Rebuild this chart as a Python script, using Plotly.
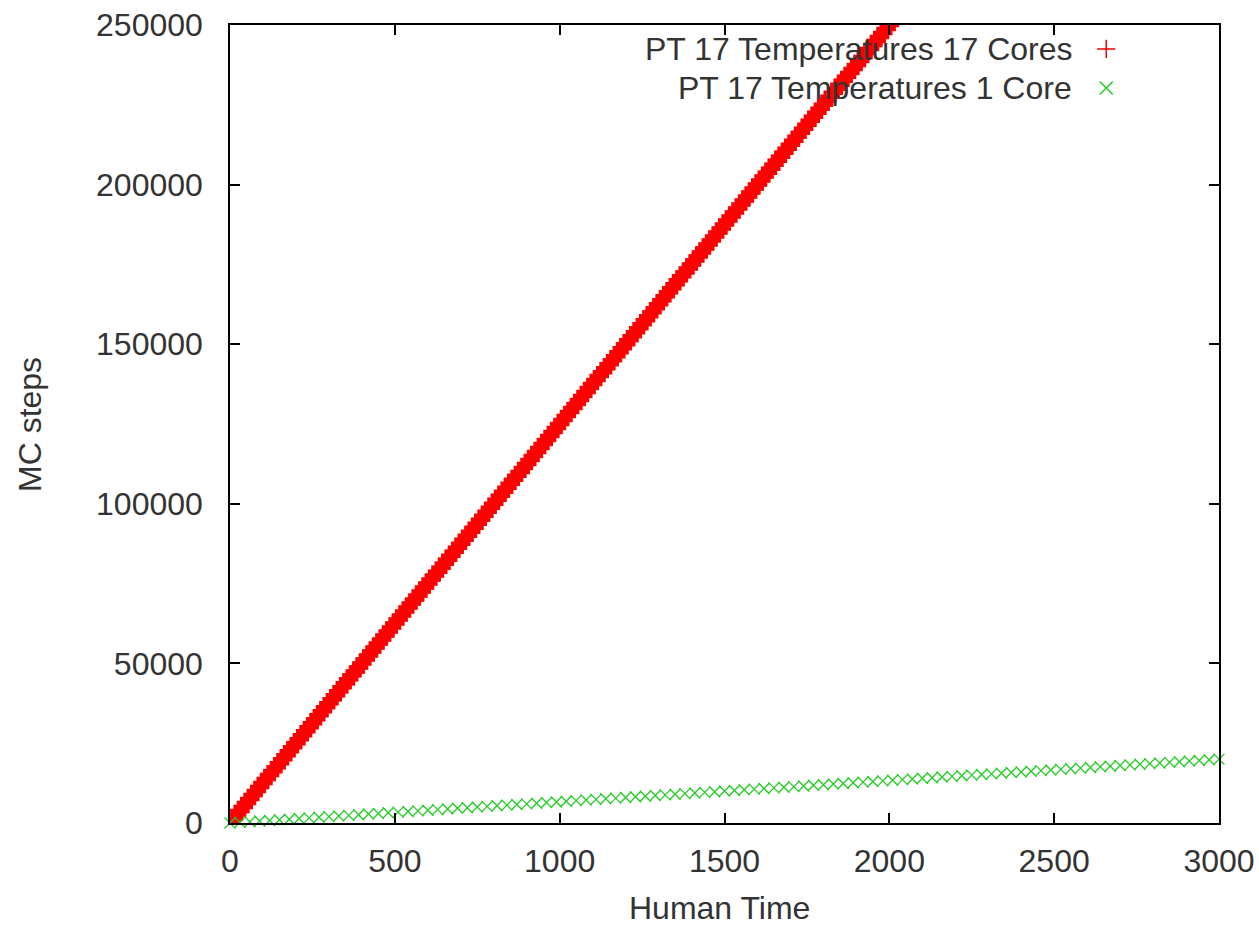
import plotly.graph_objects as go

# ---- data ----
red_x = [
    0, 10, 20, 30, 40, 50, 60, 70, 80, 90, 100, 110, 120, 130, 140, 150, 160, 170, 180, 190,
    200, 210, 220, 230, 240, 250, 260, 270, 280, 290, 300, 310, 320, 330, 340, 350, 360, 370, 380, 390,
    400, 410, 420, 430, 440, 450, 460, 470, 480, 490, 500, 510, 520, 530, 540, 550, 560, 570, 580, 590,
    600, 610, 620, 630, 640, 650, 660, 670, 680, 690, 700, 710, 720, 730, 740, 750, 760, 770, 780, 790,
    800, 810, 820, 830, 840, 850, 860, 870, 880, 890, 900, 910, 920, 930, 940, 950, 960, 970, 980, 990,
    1000, 1010, 1020, 1030, 1040, 1050, 1060, 1070, 1080, 1090, 1100, 1110, 1120, 1130, 1140, 1150, 1160, 1170, 1180, 1190,
    1200, 1210, 1220, 1230, 1240, 1250, 1260, 1270, 1280, 1290, 1300, 1310, 1320, 1330, 1340, 1350, 1360, 1370, 1380, 1390,
    1400, 1410, 1420, 1430, 1440, 1450, 1460, 1470, 1480, 1490, 1500, 1510, 1520, 1530, 1540, 1550, 1560, 1570, 1580, 1590,
    1600, 1610, 1620, 1630, 1640, 1650, 1660, 1670, 1680, 1690, 1700, 1710, 1720, 1730, 1740, 1750, 1760, 1770, 1780, 1790,
    1800, 1810, 1820, 1830, 1840, 1850, 1860, 1870, 1880, 1890, 1900, 1910, 1920, 1930, 1940, 1950, 1960, 1970, 1980, 1990,
    2000,
]
red_y = [
    0, 1250, 2500, 3750, 5000, 6250, 7500, 8750, 10000, 11250, 12500, 13750, 15000, 16250, 17500, 18750, 20000, 21250, 22500, 23750,
    25000, 26250, 27500, 28750, 30000, 31250, 32500, 33750, 35000, 36250, 37500, 38750, 40000, 41250, 42500, 43750, 45000, 46250, 47500, 48750,
    50000, 51250, 52500, 53750, 55000, 56250, 57500, 58750, 60000, 61250, 62500, 63750, 65000, 66250, 67500, 68750, 70000, 71250, 72500, 73750,
    75000, 76250, 77500, 78750, 80000, 81250, 82500, 83750, 85000, 86250, 87500, 88750, 90000, 91250, 92500, 93750, 95000, 96250, 97500, 98750,
    100000, 101250, 102500, 103750, 105000, 106250, 107500, 108750, 110000, 111250, 112500, 113750, 115000, 116250, 117500, 118750, 120000, 121250, 122500, 123750,
    125000, 126250, 127500, 128750, 130000, 131250, 132500, 133750, 135000, 136250, 137500, 138750, 140000, 141250, 142500, 143750, 145000, 146250, 147500, 148750,
    150000, 151250, 152500, 153750, 155000, 156250, 157500, 158750, 160000, 161250, 162500, 163750, 165000, 166250, 167500, 168750, 170000, 171250, 172500, 173750,
    175000, 176250, 177500, 178750, 180000, 181250, 182500, 183750, 185000, 186250, 187500, 188750, 190000, 191250, 192500, 193750, 195000, 196250, 197500, 198750,
    200000, 201250, 202500, 203750, 205000, 206250, 207500, 208750, 210000, 211250, 212500, 213750, 215000, 216250, 217500, 218750, 220000, 221250, 222500, 223750,
    225000, 226250, 227500, 228750, 230000, 231250, 232500, 233750, 235000, 236250, 237500, 238750, 240000, 241250, 242500, 243750, 245000, 246250, 247500, 248750,
    250000,
]

green_x = [
    0, 30, 60, 90, 120, 150, 180, 210, 240, 270, 300, 330, 360, 390, 420, 450, 480, 510, 540, 570,
    600, 630, 660, 690, 720, 750, 780, 810, 840, 870, 900, 930, 960, 990, 1020, 1050, 1080, 1110, 1140, 1170,
    1200, 1230, 1260, 1290, 1320, 1350, 1380, 1410, 1440, 1470, 1500, 1530, 1560, 1590, 1620, 1650, 1680, 1710, 1740, 1770,
    1800, 1830, 1860, 1890, 1920, 1950, 1980, 2010, 2040, 2070, 2100, 2130, 2160, 2190, 2220, 2250, 2280, 2310, 2340, 2370,
    2400, 2430, 2460, 2490, 2520, 2550, 2580, 2610, 2640, 2670, 2700, 2730, 2760, 2790, 2820, 2850, 2880, 2910, 2940, 2970,
    3000,
]
green_y = [
    0, 200, 400, 600, 800, 1000, 1200, 1400, 1600, 1800, 2000, 2200, 2400, 2600, 2800, 3000, 3200, 3400, 3600, 3800,
    4000, 4200, 4400, 4600, 4800, 5000, 5200, 5400, 5600, 5800, 6000, 6200, 6400, 6600, 6800, 7000, 7200, 7400, 7600, 7800,
    8000, 8200, 8400, 8600, 8800, 9000, 9200, 9400, 9600, 9800, 10000, 10200, 10400, 10600, 10800, 11000, 11200, 11400, 11600, 11800,
    12000, 12200, 12400, 12600, 12800, 13000, 13200, 13400, 13600, 13800, 14000, 14200, 14400, 14600, 14800, 15000, 15200, 15400, 15600, 15800,
    16000, 16200, 16400, 16600, 16800, 17000, 17200, 17400, 17600, 17800, 18000, 18200, 18400, 18600, 18800, 19000, 19200, 19400, 19600, 19800,
    20000,
]

series_names = ["PT 17 Temperatures 17 Cores", "PT 17 Temperatures 1 Core"]
x_ticks = [0, 500, 1000, 1500, 2000, 2500, 3000]
y_ticks = [0, 50000, 100000, 150000, 200000, 250000]

RED = "#ff0000"
GREEN = "#22cc22"
FONT = "Liberation Sans"
FS = 32
TXT = "#333333"

fig = go.Figure()

fig.add_trace(go.Scatter(
    x=red_x, y=red_y, mode="markers", name=series_names[0], showlegend=False,
    marker=dict(symbol="cross-thin-open", size=14, color=RED, line=dict(color=RED, width=4.5)),
    cliponaxis=True,
))
fig.add_trace(go.Scatter(
    x=green_x, y=green_y, mode="markers", name=series_names[1], showlegend=False,
    marker=dict(symbol="x-thin-open", size=11, color=GREEN, line=dict(color=GREEN, width=1.3)),
    cliponaxis=False,
))

# legend key markers (gnuplot style: text right, marker to its right)
fig.add_trace(go.Scatter(
    x=[0.886, 0.886], y=[0.970, 0.921], mode="markers", xaxis="x2", yaxis="y2", showlegend=False,
    marker=dict(symbol=["cross-thin-open", "x-thin-open"], size=13, color=[RED, GREEN],
                line=dict(color=[RED, GREEN], width=1.5)),
    hoverinfo="skip",
))

axis_common = dict(
    showgrid=False, zeroline=False, showline=True, linecolor="#000", linewidth=1.5,
    mirror="ticks", ticks="inside", ticklen=10, tickcolor="#000", tickwidth=1.5,
    tickfont=dict(family=FONT, size=FS, color=TXT), automargin=False,
)

fig.update_layout(
    width=1259, height=929,
    margin=dict(l=230, r=40, t=25, b=106),
    paper_bgcolor="white", plot_bgcolor="white",
    xaxis=dict(range=[0, 3000], tickvals=x_ticks, ticklabelstandoff=9, **axis_common),
    yaxis=dict(range=[0, 250000], tickvals=y_ticks, ticklabelstandoff=19,
               tickformat="d", **axis_common),
    xaxis2=dict(overlaying="x", range=[0, 1], visible=False, domain=[0, 1], anchor="y2"),
    yaxis2=dict(overlaying="y", range=[0, 1], visible=False, anchor="x2"),
    showlegend=False,
    annotations=[
        dict(text=series_names[0], xref="paper", yref="paper", x=0.853, y=0.970,
             xanchor="right", yanchor="middle", showarrow=False,
             font=dict(family=FONT, size=FS, color=TXT)),
        dict(text=series_names[1], xref="paper", yref="paper", x=0.853, y=0.921,
             xanchor="right", yanchor="middle", showarrow=False,
             font=dict(family=FONT, size=FS, color=TXT)),
        dict(text="Human Time", xref="paper", yref="paper", x=0.4954, y=-0.1313,
             xanchor="center", yanchor="bottom", showarrow=False,
             font=dict(family=FONT, size=FS, color=TXT)),
        dict(text="MC steps", xref="paper", yref="paper", x=-0.202, y=0.499,
             xanchor="center", yanchor="middle", showarrow=False, textangle=-90,
             font=dict(family=FONT, size=FS, color=TXT)),
    ],
)

fig.write_html("out.html")
